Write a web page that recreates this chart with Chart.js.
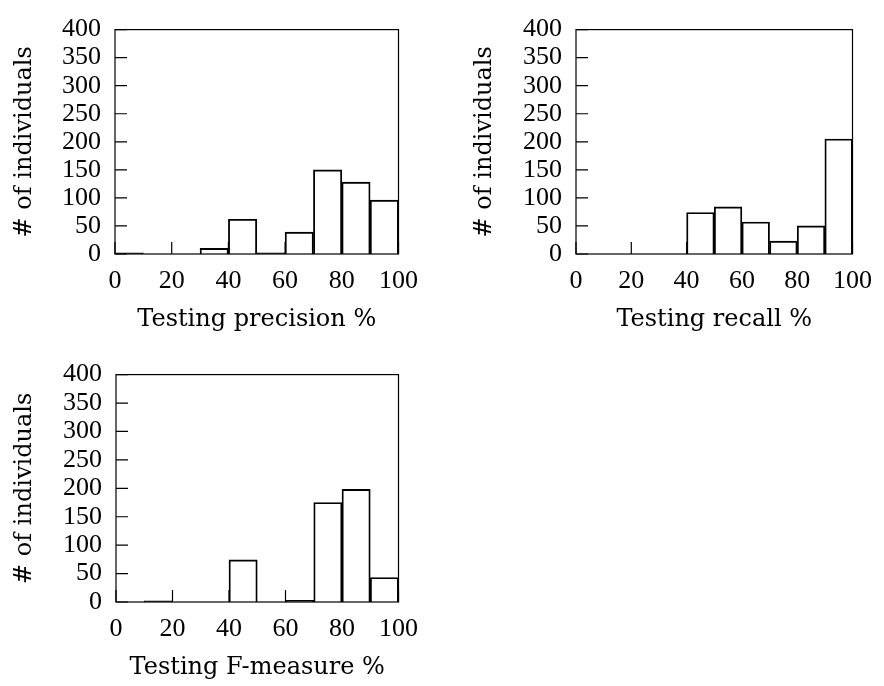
<!DOCTYPE html>
<html>
<head>
<meta charset="utf-8">
<script src="https://cdn.jsdelivr.net/npm/chart.js@4.4.0/dist/chart.umd.min.js"></script>
<style>
  html, body { margin: 0; padding: 0; background: #fff; overflow: hidden; }
  #wrap { position: relative; width: 884px; height: 686px; }
  canvas { position: absolute; }
</style>
</head>
<body>
<div id="wrap">
  <canvas id="precChart" width="430" height="345" style="left:0;top:0"></canvas>
  <canvas id="recChart" width="424" height="345" style="left:460px;top:0"></canvas>
  <canvas id="fmChart" width="430" height="341" style="left:0;top:345px"></canvas>
</div>
<script>
// histogram bins: 10%-wide, centers
const binCenters = [5, 15, 25, 35, 45, 55, 65, 75, 85, 95];

const precisionCounts = [2, 0, 0, 10, 62, 2, 39, 150, 128, 96];
const recallCounts    = [0, 0, 0, 0, 74, 84, 57, 23, 50, 205];
const fmeasureCounts  = [0, 2, 0, 0, 74, 0, 3, 175, 198, 43];

const yTitle = "# of individuals";
const TICK_FONT = "'Liberation Serif', 'Times New Roman', serif";
const TITLE_FONT = "'DejaVu Serif', serif";
const TICK_LEN = 12;

// pgfplots style box + inward ticks
const frameAndTicks = {
  id: 'frameAndTicks',
  afterDatasetsDraw(chart) {
    const { ctx, chartArea: a, scales: { x, y } } = chart;
    ctx.save();
    ctx.strokeStyle = '#000';
    ctx.lineWidth = 1.2;
    ctx.beginPath();
    x.ticks.forEach(t => {
      const px = x.getPixelForValue(t.value);
      ctx.moveTo(px, a.bottom);
      ctx.lineTo(px, a.bottom - TICK_LEN);
    });
    y.ticks.forEach(t => {
      const py = y.getPixelForValue(t.value);
      ctx.moveTo(a.left, py);
      ctx.lineTo(a.left + TICK_LEN, py);
    });
    ctx.stroke();
    ctx.strokeRect(a.left, a.top, a.width, a.height);
    ctx.restore();
  }
};

function makeChart(id, counts, xTitle, padding, yWidth) {
  const ctx = document.getElementById(id).getContext('2d');
  return new Chart(ctx, {
    type: 'bar',
    data: {
      datasets: [{
        data: binCenters.map((c, i) => ({ x: c, y: counts[i] })),
        backgroundColor: 'rgba(255,255,255,0)',
        borderColor: '#000',
        borderWidth: 1.2,
        barPercentage: 1,
        categoryPercentage: 1
      }]
    },
    options: {
      responsive: false,
      animation: false,
      devicePixelRatio: 1,
      layout: { padding },
      plugins: { legend: { display: false }, tooltip: { enabled: false } },
      scales: {
        x: {
          type: 'linear',
          min: 0,
          max: 100,
          offset: false,
          grid: { display: false, offset: false, drawTicks: false },
          border: { display: false },
          ticks: {
            stepSize: 20,
            padding: 12,
            autoSkip: false,
            maxRotation: 0,
            color: '#000',
            font: { family: TICK_FONT, size: 26 }
          },
          title: {
            display: true,
            text: xTitle,
            color: '#000',
            font: { family: TITLE_FONT, size: 24 },
            padding: { top: 0, bottom: 0 }
          },
          afterFit: s => { s.height = 80; }
        },
        y: {
          min: 0,
          max: 400,
          grid: { display: false, drawTicks: false },
          border: { display: false },
          ticks: {
            stepSize: 50,
            padding: 14,
            autoSkip: false,
            color: '#000',
            font: { family: TICK_FONT, size: 26 }
          },
          title: {
            display: true,
            text: yTitle,
            color: '#000',
            font: { family: TITLE_FONT, size: 24 },
            padding: { top: 10, bottom: 0 }
          },
          afterFit: s => { s.width = yWidth; }
        }
      }
    },
    plugins: [frameAndTicks]
  });
}

makeChart('precChart', precisionCounts, 'Testing precision %', { top: 19, right: 30, bottom: 11, left: 0 }, 115);
makeChart('recChart', recallCounts, 'Testing recall %', { top: 19, right: 24, bottom: 11, left: 0 }, 116);
makeChart('fmChart', fmeasureCounts, 'Testing F-measure %', { top: 24, right: 30, bottom: 4, left: 0 }, 116);
</script>
</body>
</html>
